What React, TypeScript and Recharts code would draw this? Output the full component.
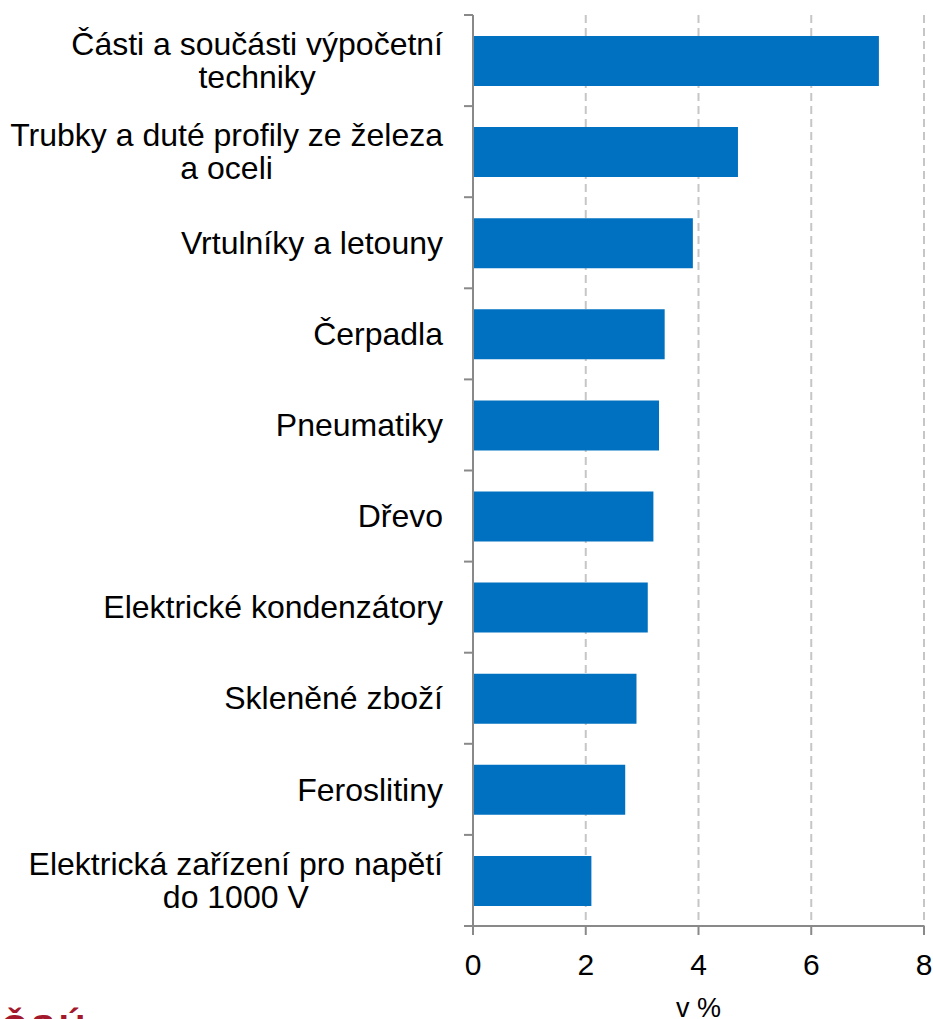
import React from 'react';
import { BarChart, Bar, XAxis, YAxis, CartesianGrid } from 'recharts';

const categories = [
  'Části a součásti výpočetní\ntechniky',
  'Trubky a duté profily ze železa\na oceli',
  'Vrtulníky a letouny',
  'Čerpadla',
  'Pneumatiky',
  'Dřevo',
  'Elektrické kondenzátory',
  'Skleněné zboží',
  'Feroslitiny',
  'Elektrická zařízení pro napětí\ndo 1000 V',
];
const values = [7.2, 4.7, 3.9, 3.4, 3.3, 3.2, 3.1, 2.9, 2.7, 2.1];
const xTicks = [0, 2, 4, 6, 8];
const axisLabel = 'v %';
const logoText = 'ČSÚ';

const data = categories.map((name, i) => ({ name, value: values[i] }));

const W = 933;
const H = 1019;
const MARGIN = { top: 15, right: 9, bottom: 0, left: 0 };
const Y_WIDTH = 473;
const X_HEIGHT = 93;
const PLOT_H = H - MARGIN.top - MARGIN.bottom - X_HEIGHT;
const BAND = PLOT_H / categories.length;
const FONT = "'Liberation Sans', Arial, sans-serif";
const LABEL_SIZE = 32;
const LINE_H = 33;
const LABEL_RIGHT = 443;
const AXIS_COLOR = '#898989';

let ctx: CanvasRenderingContext2D | null = null;
function measure(t: string): number {
  if (!ctx) {
    const c = document.createElement('canvas');
    ctx = c.getContext('2d');
  }
  if (!ctx) return t.length * LABEL_SIZE * 0.5;
  ctx.font = `${LABEL_SIZE}px 'Liberation Sans'`;
  return ctx.measureText(t).width;
}

const CategoryTick = (props: any) => {
  const { y, payload, index } = props;
  const lines: string[] = String(payload.value).split('\n');
  const maxW = Math.max(...lines.map(measure));
  const cx = LABEL_RIGHT - maxW / 2;
  const startY = y - ((lines.length - 1) * LINE_H) / 2;
  const axisX = Y_WIDTH;
  return (
    <g>
      <line x1={axisX - 9} x2={axisX} y1={y - BAND / 2} y2={y - BAND / 2} stroke={AXIS_COLOR} strokeWidth={2} />
      {index === categories.length - 1 && (
        <line x1={axisX - 9} x2={axisX} y1={y + BAND / 2} y2={y + BAND / 2} stroke={AXIS_COLOR} strokeWidth={2} />
      )}
      <text textAnchor="middle" fontFamily={FONT} fontSize={LABEL_SIZE} fill="#000">
        {lines.map((l, i) => (
          <tspan key={i} x={cx} y={startY + i * LINE_H} dy="0.35em">
            {l}
          </tspan>
        ))}
      </text>
    </g>
  );
};

export default function App() {
  return (
    <div style={{ position: 'relative', width: W, height: H, overflow: 'hidden' }}>
      <style>{'html,body{margin:0;padding:0;overflow:hidden}'}</style>
      <BarChart width={W} height={H} data={data} layout="vertical" margin={MARGIN} barSize={50}>
        <CartesianGrid horizontal={false} vertical={true} stroke="#c6c6c6" strokeWidth={2} strokeDasharray="8 5" />
        <XAxis
          type="number"
          domain={[0, 8]}
          ticks={xTicks}
          interval={0}
          height={X_HEIGHT}
          tickSize={9}
          tickMargin={19}
          axisLine={{ stroke: AXIS_COLOR, strokeWidth: 2 }}
          tickLine={{ stroke: AXIS_COLOR, strokeWidth: 2 }}
          tick={{ fill: '#000', fontSize: 30, fontFamily: FONT }}
          label={{ value: axisLabel, position: 'insideBottom', offset: 2, fill: '#000', fontSize: 27, fontFamily: FONT }}
        />
        <YAxis
          type="category"
          dataKey="name"
          width={Y_WIDTH}
          interval={0}
          tickLine={false}
          axisLine={{ stroke: AXIS_COLOR, strokeWidth: 2 }}
          tick={<CategoryTick />}
        />
        <Bar dataKey="value" fill="#0070c0" isAnimationActive={false} />
      </BarChart>
      <svg width={120} height={22} style={{ position: 'absolute', left: 0, top: 997 }}>
        <text x={1} y={44} fontFamily={FONT} fontWeight="bold" fontSize={36} letterSpacing={4} fill="#a3182b">
          {logoText}
        </text>
      </svg>
    </div>
  );
}
